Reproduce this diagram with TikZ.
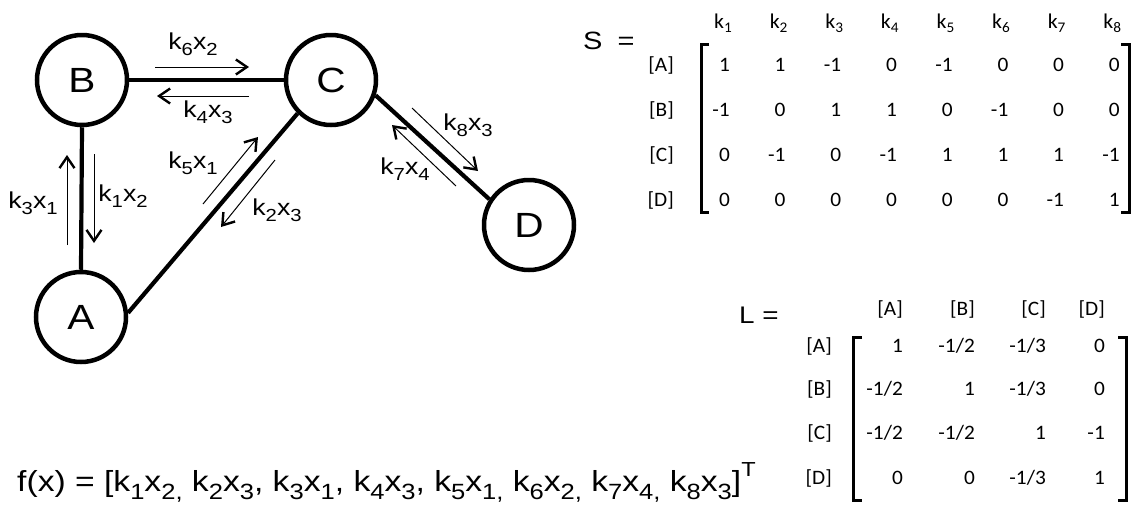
\documentclass[tikz,border=0pt]{standalone}
\usepackage{fontspec}
\setmainfont[FakeStretch=1.16]{Liberation Sans}
\newfontfamily\calfont[FakeStretch=1.04]{Carlito}
\usetikzlibrary{arrows.meta}
\newcommand\sbs[1]{\raisebox{-0.28em}{\scalebox{0.76}{#1}}}
\newcommand\msb[1]{\raisebox{-0.22em}{\scalebox{0.7}{#1}}}
\newcommand\sps[1]{\raisebox{0.5em}{\scalebox{0.7}{#1}}}
\newcommand\kx[2]{k\sbs{#1}x\sbs{#2}}
\tikzset{
  state/.style={circle, draw, line width=4.5pt, minimum size=90pt, inner sep=0pt,
    font=\fontsize{35}{40}\selectfont},
  link/.style={line width=4.2pt},
  rate/.style={line width=1pt, -{Straight Barb[length=11pt,width=15pt,line width=2.4pt]}},
  ratelabel/.style={inner sep=0pt, font=\fontsize{23}{27}\selectfont},
  entry/.style={inner sep=0pt, anchor=base east, font=\calfont\fontsize{20.5}{25}\selectfont},
  head/.style={inner sep=0pt, anchor=base, font=\calfont\fontsize{21}{25}\selectfont},
  bracket/.style={line width=3pt},
}
\begin{document}
\begin{tikzpicture}[x=1pt,y=-1pt]
\useasboundingbox (0,0) rectangle (1135,504);
% states
\node[state] (B) at (82,80) {B};
\node[state] (C) at (331,80) {C};
\node[state] (A) at (81,317) {A};
\node[state] (D) at (529,225) {D};
% links
\draw[link] (B) -- (C);
\draw[link] (B.south) -- (A.north);
\draw[link] (A.5) -- (C.225);
\draw[link] (C.-19) -- (D.147);
% rate arrows
\coordinate (r6s) at (155,67);  \coordinate (r6e) at (249,67);
\coordinate (r4s) at (249,96);  \coordinate (r4e) at (157,96);
\coordinate (r3s) at (67,245);  \coordinate (r3e) at (67,155);
\coordinate (r1s) at (94,154);  \coordinate (r1e) at (94,243);
\coordinate (r5s) at (203,204); \coordinate (r5e) at (258,137);
\coordinate (r2s) at (275,160); \coordinate (r2e) at (221,227);
\coordinate (r8s) at (412,108); \coordinate (r8e) at (478,171);
\coordinate (r7s) at (456,186); \coordinate (r7e) at (392,125);
\draw[rate] (r6s) -- (r6e);
\draw[rate] (r4s) -- (r4e);
\draw[rate] (r3s) -- (r3e);
\draw[rate] (r1s) -- (r1e);
\draw[rate] (r5s) -- (r5e);
\draw[rate] (r2s) -- (r2e);
\draw[rate] (r8s) -- (r8e);
\draw[rate] (r7s) -- (r7e);
% rate labels
\node[ratelabel] (l6) at (193,44) {\kx{6}{2}};
\node[ratelabel] (l4) at (208,112) {\kx{4}{3}};
\node[ratelabel] (l3) at (33,203) {\kx{3}{1}};
\node[ratelabel] (l1) at (123,196) {\kx{1}{2}};
\node[ratelabel] (l5) at (193,163) {\kx{5}{1}};
\node[ratelabel] (l2) at (277,210) {\kx{2}{3}};
\node[ratelabel] (l8) at (468,125) {\kx{8}{3}};
\node[ratelabel] (l7) at (405,169) {\kx{7}{4}};
% f(x)
\node[inner sep=0pt, anchor=base west, font=\fontsize{29}{33}\selectfont] (fx) at (17,491)
 {f(x) = [\kx{1}{2,} \kx{2}{3}, \kx{3}{1}, \kx{4}{3}, \kx{5}{1,} \kx{6}{2,} \kx{7}{4,} \kx{8}{3}]\sps{T}};
% S matrix
\node[inner sep=0pt, anchor=base west, font=\fontsize{25}{29}\selectfont] (Sname) at (583,49) {S\hspace{0.6em}=};
\foreach \i in {1,...,8} {
  \node[head] (sh\i) at ({723+55.6*(\i-1)},28) {k\msb{\i}};
}
\foreach \r/\y in {A/64,B/109,C/154,D/199} {
  \node[entry] (sr\r) at (674,\y+7) {[\r]};
}
\foreach \r/\y/\vals in {A/64/{1,1,-1,0,-1,0,0,0}, B/109/{-1,0,1,1,0,-1,0,0},
                         C/154/{0,-1,0,-1,1,1,1,-1}, D/199/{0,0,0,0,0,0,-1,1}} {
  \foreach \v [count=\c] in \vals {
    \node[entry] (s\r\c) at ({730+55.7*(\c-1)},\y+7) {\v};
  }
}
\draw[bracket] (709,44) -- (701,44) -- (701,212) -- (709,212);
\draw[bracket] (1121,44) -- (1129,44) -- (1129,212) -- (1121,212);
% L matrix
\node[inner sep=0pt, anchor=base west, font=\fontsize{24}{28}\selectfont] (Lname) at (739,323) {L =};
\foreach \h/\x in {A/903,B/975,C/1046,D/1105} {
  \node[entry] (lh\h) at (\x,315) {[\h]};
}
\foreach \r/\y in {A/345,B/388,C/432,D/477} {
  \node[entry] (lr\r) at (832,\y+7) {[\r]};
}
\foreach \r/\y/\a/\b/\cc/\d in {A/345/{1}/{-1{/}2}/{-1{/}3}/{0}, B/388/{-1{/}2}/{1}/{-1{/}3}/{0},
                         C/432/{-1{/}2}/{-1{/}2}/{1}/{-1}, D/477/{0}/{0}/{-1{/}3}/{1}} {
  \node[entry] (l\r1) at (903,\y+7) {\a};
  \node[entry] (l\r2) at (975,\y+7) {\b};
  \node[entry] (l\r3) at (1046,\y+7) {\cc};
  \node[entry] (l\r4) at (1105,\y+7) {\d};
}
\draw[bracket] (862,337) -- (853,337) -- (853,500) -- (862,500);
\draw[bracket] (1118,337) -- (1126,337) -- (1126,500) -- (1118,500);
\end{tikzpicture}
\end{document}
